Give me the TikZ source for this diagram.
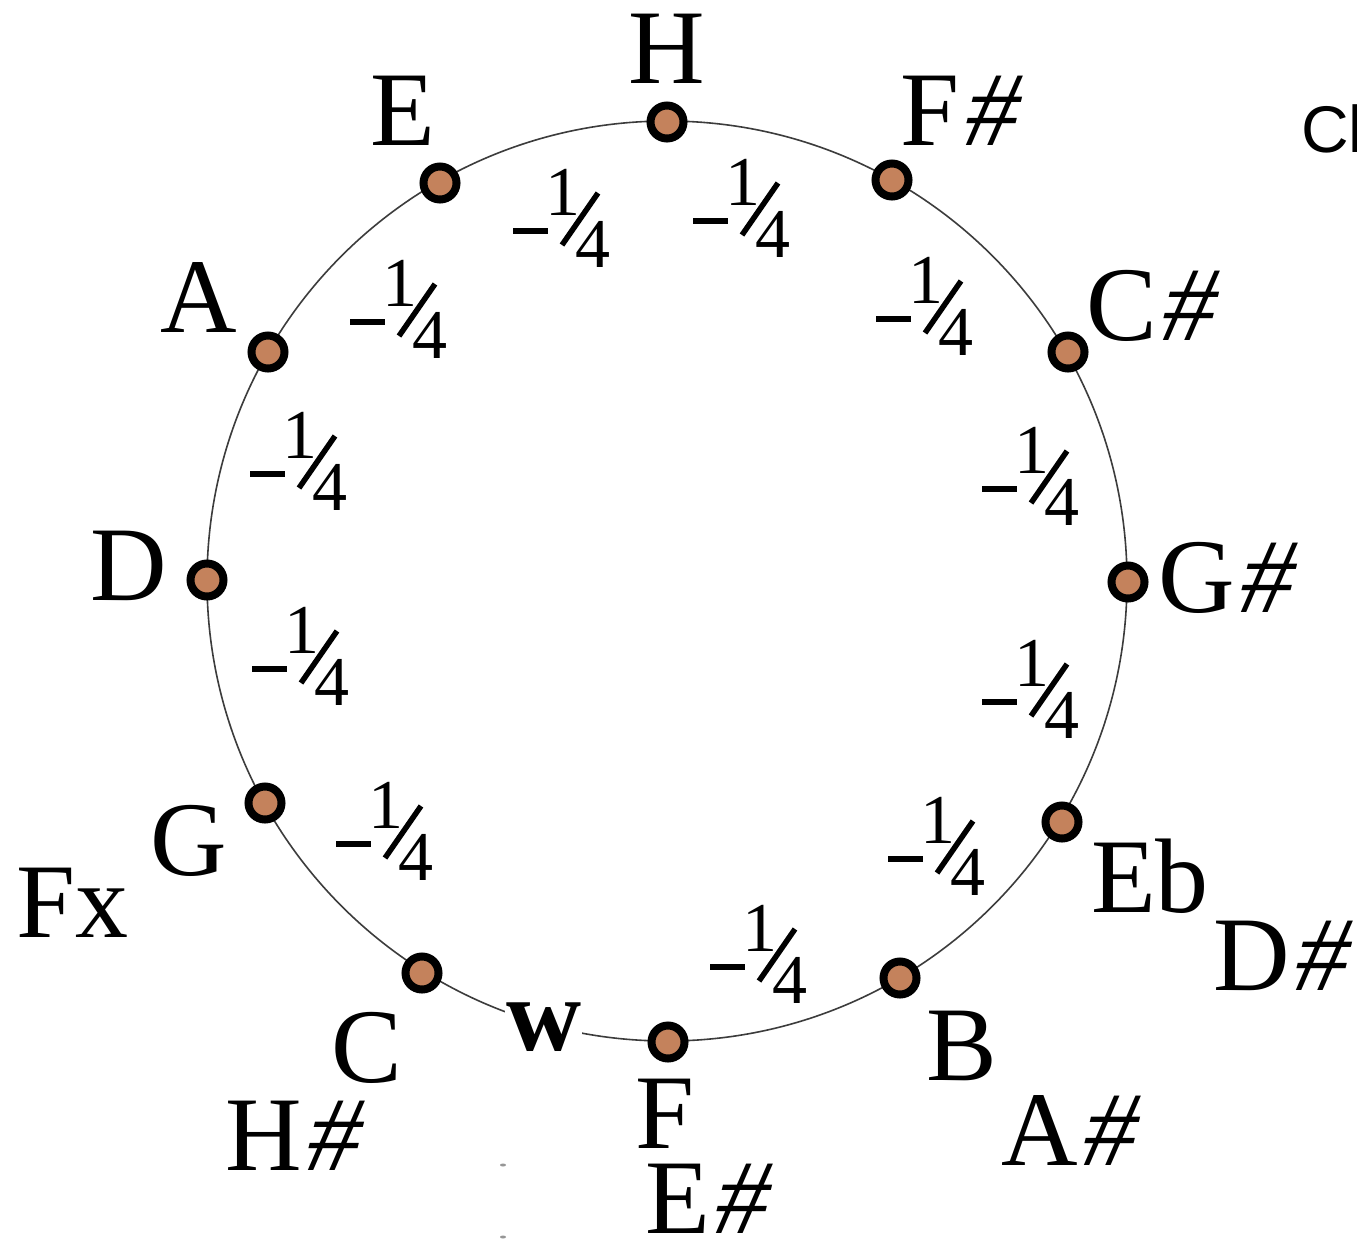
\documentclass[tikz,border=0pt]{standalone}
\usepackage{fontspec}
\setmainfont{Liberation Serif}
\newfontfamily\sansf{Liberation Sans}
\newfontfamily\shfont[FakeSlant=0.25]{Liberation Serif}
\newcommand{\sh}{{\shfont\#}}
\definecolor{dotfill}{RGB}{196,130,92}
\definecolor{ringline}{RGB}{60,60,60}
\definecolor{speck}{RGB}{150,150,150}
\begin{document}
\begin{tikzpicture}[x=1pt,y=-1pt,
  notedot/.style={circle,draw=black,fill=dotfill,line width=8pt,minimum size=33pt,inner sep=0pt},
  notename/.style={anchor=base west,inner sep=0pt,font=\fontsize{106}{106}\selectfont},
  qdigit/.style={anchor=base,inner sep=0pt,font=\fontsize{70}{70}\selectfont},
  qbar/.style={line width=5.5pt},
  qtr/.pic={
    \draw[qbar] (0,-36) -- (35,-36);
    \node[qdigit] (-one) at (50,-52) {1};
    \draw[qbar] (49,-22) -- (85,-74);
    \node[qdigit] (-four) at (80,0) {4};
  }]
\useasboundingbox (0,0) rectangle (1357,1243);
\clip (0,0) rectangle (1357,1243);
\fill[white] (0,0) rectangle (1357,1243);

% ring
\coordinate (ctr) at (667,581);
\draw[ringline,line width=1.6pt] (ctr) circle[radius=460];

% whole-tone mark between C and F
\node[anchor=base west,inner sep=1pt,fill=white,font=\fontsize{104}{104}\selectfont\bfseries] (w) at (505,1050) {w};

% note dots
\node[notedot] (nH)  at (667,122) {};
\node[notedot] (nFs) at (892,180) {};
\node[notedot] (nCs) at (1068,352) {};
\node[notedot] (nGs) at (1128,582) {};
\node[notedot] (nEb) at (1062,822) {};
\node[notedot] (nB)  at (900,978) {};
\node[notedot] (nF)  at (668,1042) {};
\node[notedot] (nC)  at (422,973) {};
\node[notedot] (nG)  at (265,803) {};
\node[notedot] (nD)  at (207,580) {};
\node[notedot] (nA)  at (268,352) {};
\node[notedot] (nE)  at (440,183) {};

% note names
\node[notename] (lH)  at (628,83)   {H};
\node[notename] (lFs) at (900,145)  {F\sh};
\node[notename] (lE)  at (370,145)  {E};
\node[notename] (lCs) at (1086,340) {C\sh};
\node[notename] (lA)  at (160,332)  {A};
\node[notename] (lD)  at (90,600)   {D};
\node[notename] (lGs) at (1158,612) {G\sh};
\node[notename] (lG)  at (150,875)  {G};
\node[notename] (lFx) at (16,937)   {Fx};
\node[notename] (lEb) at (1091,912) {Eb};
\node[notename] (lDs) at (1213,990) {D\sh};
\node[notename] (lB)  at (926,1080) {B};
\node[notename] (lAs) at (1001,1165){A\sh};
\node[notename] (lC)  at (331,1082) {C};
\node[notename] (lHs) at (225,1170) {H\sh};
\node[notename] (lF)  at (635,1148) {F};
\node[notename] (lEs) at (645,1233) {E\sh};

% quarter-tone labels
\pic (q1)  at (513,267)  {qtr};
\pic (q2)  at (693,257)  {qtr};
\pic (q3)  at (876,355)  {qtr};
\pic (q4)  at (350,358)  {qtr};
\pic (q5)  at (250,510)  {qtr};
\pic (q6)  at (982,525)  {qtr};
\pic (q7)  at (252,705)  {qtr};
\pic (q8)  at (982,738)  {qtr};
\pic (q9)  at (336,880)  {qtr};
\pic (q10) at (888,895)  {qtr};
\pic (q11) at (710,1003) {qtr};

% clipped heading at the right edge
\node[anchor=base west,inner sep=0pt,font=\sansf\fontsize{66}{66}\selectfont] (cl) at (1301,152) {Cl};

% specks
\fill[speck] (503,1165) ellipse[x radius=3,y radius=1.5];
\fill[speck] (503,1237) ellipse[x radius=3,y radius=1.5];
\end{tikzpicture}
\end{document}
